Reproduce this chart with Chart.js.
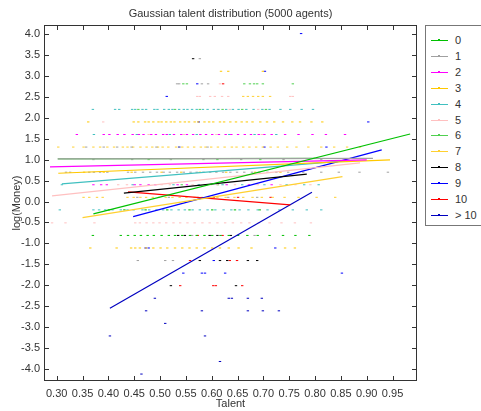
<!DOCTYPE html>
<html><head><meta charset="utf-8">
<script src="https://cdn.jsdelivr.net/npm/chart.js@4.4.0/dist/chart.umd.min.js"></script>
<style>
html,body{margin:0;padding:0;background:#fff;}
#wrap{position:relative;width:481px;height:411px;overflow:hidden;font-family:"Liberation Sans",Arial,sans-serif;}
#c{position:absolute;left:0;top:0;}
#title{position:absolute;top:6px;left:44px;width:373px;text-align:center;font-size:11px;line-height:14px;color:#333;white-space:nowrap;}
#legend{position:absolute;left:425px;top:25px;width:80px;height:201px;border:1px solid #777;box-sizing:border-box;background:#fff;}
.item{position:absolute;left:0;width:80px;height:16px;font-size:11px;line-height:16px;color:#333;}
.item .ln{position:absolute;left:5px;top:8px;width:17px;height:1px;}
.item .mk{position:absolute;left:12px;top:7px;width:2px;height:2px;}
.item .tx{position:absolute;left:29px;top:0;}
</style>
</head><body>
<div id="wrap">
<canvas id="c" width="481" height="411"></canvas>
<div id="title">Gaussian talent distribution (5000 agents)</div>
<div id="legend"></div>
</div>
<script>
// ---- data ----
const chartTitle = 'Gaussian talent distribution (5000 agents)';
const seriesNames = ['0','1','2','3','4','5','6','7','8','9','10','> 10'];
const seriesColors = ['#00c000','#a0a0a0','#ff00ff','#ffc800','#40c0c0','#ffc0c0',
                      '#50d050','#ffd030','#000000','#0000ff','#ff0000','#0000c0'];
const xTicks = [0.30,0.35,0.40,0.45,0.50,0.55,0.60,0.65,0.70,0.75,0.80,0.85,0.90,0.95];
const yTicks = [-4.0,-3.5,-3.0,-2.5,-2.0,-1.5,-1.0,-0.5,0.0,0.5,1.0,1.5,2.0,2.5,3.0,3.5,4.0];

// scatter points: [log(Money) level, [talents...]] per series
const pts0 = [
  [-0.20,[0.401,0.431,0.472,0.514,0.557,0.601,0.645,0.693]],
  [-0.81,[0.370,0.424,0.438,0.451,0.463,0.476,0.488,0.503,0.517,0.529,0.543,0.558,0.571,0.586,0.601,0.617,0.633,0.651,0.669,0.689,0.712,0.738,0.762,0.789]]
];
const pts1 = [
  [3.41,[0.577]],
  [2.81,[0.533,0.537,0.581,0.593]],
  [1.30,[0.357,0.391,0.417,0.445,0.493,0.537,0.592]],
  [1.00,[0.371,0.446,0.521,0.584,0.657,0.739,0.812]],
  [0.70,[0.318,0.326,0.363,0.372,0.384,0.398,0.438,0.452,0.467,0.481,0.494,0.507,0.519,0.533,0.546,0.559,0.571,0.584,0.597,0.609,0.622,0.636,0.649,0.663,0.678,0.692,0.708,0.725,0.748,0.777,0.812,0.846,0.886,0.941]],
  [0.10,[0.456,0.517,0.573,0.632,0.688]],
  [-0.81,[0.562,0.683]],
  [-1.41,[0.457,0.510,0.525]]
];
const pts2 = [
  [1.60,[0.339,0.391,0.402,0.418,0.431,0.447,0.459,0.468,0.483,0.492,0.506,0.513,0.527,0.541,0.552,0.564,0.578,0.589,0.601,0.614,0.627,0.638,0.651,0.664,0.676,0.691,0.702,0.716,0.742,0.768,0.795,0.821,0.858]],
  [0.40,[0.371,0.386,0.397,0.451,0.462,0.478,0.491,0.534,0.552,0.587,0.629,0.672,0.716]]
];
const pts3 = [
  [3.11,[0.618,0.632,0.699]],
  [1.90,[0.361,0.449,0.458,0.471,0.478,0.487,0.497,0.503,0.512,0.521,0.528,0.539,0.548,0.556,0.567,0.574,0.586,0.595,0.603,0.616,0.624,0.636,0.647,0.658,0.668,0.679,0.694,0.707,0.721,0.738,0.756,0.771,0.793,0.814]],
  [0.70,[0.353,0.391,0.445,0.503,0.541,0.577,0.628,0.684,0.733]],
  [-1.11,[0.365,0.416,0.444,0.452,0.461,0.473,0.487,0.501,0.514,0.529,0.543,0.557,0.571,0.586,0.601,0.616,0.633,0.652,0.677,0.742,0.761]]
];
const pts4 = [
  [2.20,[0.370,0.413,0.421,0.446,0.452,0.466,0.473,0.489,0.495,0.508,0.517,0.524,0.537,0.546,0.553,0.562,0.571,0.583,0.592,0.604,0.613,0.628,0.641,0.652,0.667,0.681,0.698,0.712,0.733,0.752,0.774,0.796]],
  [1.60,[0.372,0.455,0.519,0.571,0.634,0.683,0.725]],
  [0.40,[0.310,0.447,0.526,0.575,0.621,0.659,0.702,0.745,0.779,0.807]],
  [-0.20,[0.306,0.371,0.382,0.394,0.408,0.424,0.437,0.449,0.466,0.479,0.493,0.506,0.522,0.536,0.548,0.563,0.577,0.592,0.607,0.623,0.638,0.654,0.671,0.689,0.708,0.731,0.757,0.784,0.812]]
];
const pts5 = [
  [2.81,[0.616]],
  [2.51,[0.572,0.577,0.597,0.606,0.620,0.632,0.752,0.757]],
  [2.20,[0.612,0.635,0.690]],
  [1.90,[0.390]],
  [1.60,[0.478,0.546,0.609,0.697]],
  [0.40,[0.419,0.436,0.503,0.519,0.563,0.598,0.611,0.645,0.689,0.733,0.762,0.791]],
  [-0.51,[0.291,0.317,0.373,0.452,0.461,0.474,0.487,0.499,0.512,0.526,0.539,0.553,0.567,0.582,0.596,0.611,0.626,0.641,0.657,0.673,0.691,0.712,0.735,0.761,0.792]]
];
const pts6 = [
  [2.81,[0.545,0.552,0.663,0.674,0.682,0.688,0.699,0.757]],
  [2.20,[0.458,0.529,0.577,0.621,0.659,0.705]],
  [1.00,[0.478,0.611,0.694]],
  [0.40,[0.542,0.612]]
];
const pts7 = [
  [2.51,[0.661,0.670,0.680,0.690,0.699,0.713]],
  [1.30,[0.303,0.332,0.352,0.371,0.384,0.398,0.411,0.428,0.437,0.448,0.462,0.474,0.485,0.496,0.505,0.516,0.531,0.543,0.554,0.566,0.579,0.588,0.599,0.612,0.625,0.639,0.648,0.661,0.673,0.686,0.699,0.714,0.728,0.746,0.764,0.787,0.812,0.837,0.862,0.887]],
  [0.10,[0.352,0.363,0.378,0.389,0.437,0.449,0.462,0.473,0.486,0.498,0.511,0.524,0.538,0.551,0.567,0.581,0.596,0.611,0.627,0.644,0.661,0.679,0.697,0.718,0.741,0.768,0.803,0.839]]
];
const pts8 = [
  [3.41,[0.564]],
  [-0.81,[0.535,0.548,0.596,0.611,0.637]],
  [-1.41,[0.577,0.616,0.630,0.670,0.688]],
  [-2.01,[0.521,0.647]]
];
const pts9 = [
  [4.01,[0.773]],
  [3.11,[0.703]],
  [2.81,[0.572]],
  [2.51,[0.513]],
  [1.90,[0.575,0.903]],
  [1.30,[0.537,0.702,0.822]],
  [-1.11,[0.472,0.478,0.723]],
  [-1.41,[0.604]],
  [-1.71,[0.545,0.581,0.587,0.626,0.852]]
];
const pts10 = [
  [2.81,[0.622]],
  [0.10,[0.604,0.651,0.714]],
  [-0.81,[0.573,0.621]],
  [-1.41,[0.558,0.635,0.649]],
  [-2.01,[0.539,0.603,0.608,0.659]]
];
const pts11 = [
  [-2.31,[0.490,0.633,0.639,0.670,0.697]],
  [-2.61,[0.473,0.581,0.670,0.699,0.730]],
  [-2.91,[0.510]],
  [-3.21,[0.403,0.587]],
  [-3.82,[0.616]],
  [-4.12,[0.464]]
];
const allPts = [pts0,pts1,pts2,pts3,pts4,pts5,pts6,pts7,pts8,pts9,pts10,pts11];

// regression lines per series: start and end (talent, log(Money))
const fitX0 = [0.371,0.302,0.287,0.303,0.310,0.291,0.302,0.350,0.430,0.448,0.438,0.403];
const fitY0 = [-0.296,1.02,0.826,0.675,0.420,0.134,1.02,-0.384,0.198,-0.360,0.229,-2.547];
const fitX1 = [0.984,0.912,0.900,0.945,0.858,0.887,0.800,0.853,0.784,0.929,0.752,0.794];
const fitY1 = [1.613,1.03,0.993,0.993,0.969,0.921,1.03,0.594,0.652,1.232,-0.081,0.222];

// ---- build chart ----
Chart.defaults.font.family = "'Liberation Sans', Arial, sans-serif";
Chart.defaults.font.size = 11;
Chart.defaults.color = '#333';

const datasets = [];
seriesNames.forEach((name,i)=>{
  datasets.push({
    label: name + ' fit', type:'scatter', showLine:true, order:0,
    data:[{x:fitX0[i],y:fitY0[i]},{x:fitX1[i],y:fitY1[i]}],
    borderColor: seriesColors[i], borderWidth:1.2, pointRadius:0, fill:false
  });
});
seriesNames.forEach((name,i)=>{
  const data = [];
  allPts[i].forEach(([lvl, xs])=>xs.forEach(x=>data.push({x:x,y:lvl})));
  datasets.push({
    label: name, type:'scatter', order:1, data,
    pointStyle:'line', pointRadius:1.2, pointBorderWidth:1,
    borderColor: seriesColors[i], backgroundColor: seriesColors[i]
  });
});

const frame = {
  id:'frame',
  afterDatasetsDraw(chart){
    const {ctx, chartArea:a, scales:{x,y}} = chart;
    ctx.save();
    ctx.strokeStyle = '#333'; ctx.lineWidth = 1;
    ctx.strokeRect(a.left+0.5, a.top+0.5, a.right-a.left-1, a.bottom-a.top-1);
    ctx.beginPath();
    x.ticks.forEach(t=>{
      const p = Math.round(x.getPixelForValue(t.value))+0.5;
      ctx.moveTo(p, a.bottom); ctx.lineTo(p, a.bottom-5);
      ctx.moveTo(p, a.top); ctx.lineTo(p, a.top+5);
    });
    y.ticks.forEach(t=>{
      const p = Math.round(y.getPixelForValue(t.value))+0.5;
      ctx.moveTo(a.left, p); ctx.lineTo(a.left+5, p);
      ctx.moveTo(a.right, p); ctx.lineTo(a.right-5, p);
    });
    ctx.stroke();
    ctx.restore();
  }
};

new Chart(document.getElementById('c'), {
  type:'scatter',
  data:{datasets},
  options:{
    responsive:false, animation:false, devicePixelRatio:1,
    layout:{padding:{top:25,right:64,left:0,bottom:0}},
    plugins:{legend:{display:false}, tooltip:{enabled:false}, title:{display:false}},
    scales:{
      x:{
        type:'linear', min:0.2754, max:0.9973,
        afterBuildTicks:s=>{s.ticks = xTicks.map(v=>({value:v}));},
        afterFit:s=>{s.height = 30;},
        grid:{display:false, drawTicks:false}, border:{display:false},
        ticks:{callback:v=>Number(v).toFixed(2), padding:6, maxRotation:0, autoSkip:false, color:'#333'},
        title:{display:true, text:'Talent', color:'#333', padding:{top:0,bottom:0}}
      },
      y:{
        type:'linear', min:-4.286, max:4.215,
        afterBuildTicks:s=>{s.ticks = yTicks.map(v=>({value:v}));},
        afterFit:s=>{s.width = 44;},
        grid:{display:false, drawTicks:false}, border:{display:false},
        ticks:{callback:v=>Number(v).toFixed(1), padding:4, autoSkip:false, color:'#333'},
        title:{display:true, text:'log(Money)', color:'#333', padding:{top:10,bottom:0}}
      }
    }
  },
  plugins:[frame]
});

// HTML legend
const leg = document.getElementById('legend');
seriesNames.forEach((name,i)=>{
  const it = document.createElement('div');
  it.className = 'item';
  it.style.top = (6 + i*15.9) + 'px';
  it.innerHTML = '<div class="ln" style="background:'+seriesColors[i]+'"></div>'+
                 '<div class="mk" style="background:'+seriesColors[i]+'"></div>'+
                 '<div class="tx"></div>';
  it.querySelector('.tx').textContent = name;
  leg.appendChild(it);
});
document.getElementById('title').textContent = chartTitle;
</script>
</body></html>
